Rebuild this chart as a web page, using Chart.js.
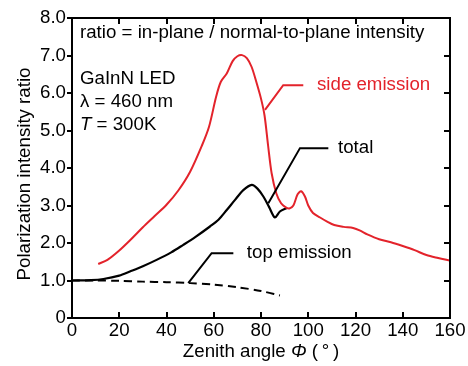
<!DOCTYPE html>
<html>
<head>
<meta charset="utf-8">
<script src="https://cdn.jsdelivr.net/npm/chart.js@4/dist/chart.umd.min.js"></script>
<style>
html,body{margin:0;padding:0;background:#fff;}
#wrap{width:468px;height:366px;position:relative;}
</style>
</head>
<body>
<div id="wrap"><canvas id="c" width="468" height="366"></canvas></div>
<script>
// ---- data ----
const xTicks = [0, 20, 40, 60, 80, 100, 120, 140, 160];
const yTicks = [0, 1, 2, 3, 4, 5, 6, 7, 8];

const sideAngle = [11.1, 15, 20, 25, 30, 35, 40, 45, 50, 55, 58, 61, 63, 65.5, 68, 70, 72, 74, 76, 78, 80, 81.5, 83, 84.5, 86.5, 88.5, 90.5, 92, 93.7, 95.5, 97, 98.6, 100, 102, 105, 108, 111, 115, 119, 122, 125, 130, 135, 140, 145, 150, 155, 160];
const sideRatio = [1.44, 1.55, 1.8, 2.1, 2.42, 2.72, 3.02, 3.4, 3.9, 4.6, 5.1, 5.9, 6.3, 6.52, 6.85, 6.98, 7.01, 6.93, 6.7, 6.3, 5.85, 5.4, 4.6, 3.86, 3.32, 3.06, 2.95, 2.92, 3.0, 3.3, 3.38, 3.24, 3.0, 2.8, 2.68, 2.57, 2.48, 2.43, 2.4, 2.33, 2.23, 2.1, 2.02, 1.92, 1.81, 1.68, 1.6, 1.53];

const totalAngle = [0, 8, 13.3, 20, 24.5, 30, 35.8, 42, 47.1, 52, 58.4, 62, 65.5, 69, 72.5, 76.1, 78.5, 81, 83.5, 85.9, 88, 90.9];
const totalRatio = [1.0, 1.01, 1.04, 1.13, 1.24, 1.38, 1.55, 1.75, 1.95, 2.15, 2.44, 2.62, 2.88, 3.15, 3.41, 3.55, 3.45, 3.24, 2.95, 2.68, 2.84, 2.93];

const topAngle = [0, 10, 20, 30, 40, 50, 60, 70, 80, 88];
const topRatio = [1.0, 1.0, 0.99, 0.97, 0.955, 0.93, 0.89, 0.82, 0.72, 0.6];

const seriesLabels = ['side emission', 'total', 'top emission'];
const headerText = 'ratio = in-plane / normal-to-plane intensity';
const infoLines = ['GaInN LED', 'λ = 460 nm'];
const xTitle = 'Zenith angle ';
const yTitle = 'Polarization intensity ratio';

// ---- layout / style ----
const RED = '#e3232b';
const FONT = '"Liberation Sans", Arial, sans-serif';
const FS = 18.7;
// leader lines in data units: [start, corner, end], and label anchor
const leaders = [
  {pts: [[81.7, 5.55], [89.4, 6.21], [97.9, 6.21]], text: [103.7, 6.21], color: RED, label: seriesLabels[0]},
  {pts: [[83.1, 3.06], [96.5, 4.53], [108.5, 4.53]], text: [112.6, 4.53], color: '#000', label: seriesLabels[1]},
  {pts: [[49.2, 0.93], [59.1, 1.73], [68.3, 1.73]], text: [74, 1.73], color: '#000', label: seriesLabels[2]}
];

function pts(xs, ys) { return xs.map((x, i) => ({x: x, y: ys[i]})); }

const decor = {
  id: 'decor',
  afterDraw(chart) {
    const ctx = chart.ctx, a = chart.chartArea;
    const xs = chart.scales.x, ys = chart.scales.y;
    ctx.save();
    // frame
    ctx.strokeStyle = '#000';
    ctx.lineWidth = 2;
    ctx.strokeRect(a.left, a.top, a.right - a.left, a.bottom - a.top);
    // ticks
    ctx.lineWidth = 2;
    ctx.beginPath();
    xTicks.forEach(v => {
      const px = Math.round(xs.getPixelForValue(v));
      ctx.moveTo(px, a.bottom); ctx.lineTo(px, a.bottom - 6);
      ctx.moveTo(px, a.top); ctx.lineTo(px, a.top + 6);
    });
    yTicks.forEach(v => {
      const py = Math.round(ys.getPixelForValue(v));
      ctx.moveTo(a.left, py); ctx.lineTo(a.left - 5, py);
      ctx.moveTo(a.right, py); ctx.lineTo(a.right - 6, py);
    });
    ctx.stroke();

    // leader lines & labels
    ctx.lineWidth = 2;
    ctx.textBaseline = 'middle';
    ctx.textAlign = 'left';
    ctx.font = FS + 'px ' + FONT;
    leaders.forEach(l => {
      ctx.strokeStyle = l.color;
      ctx.beginPath();
      l.pts.forEach((p, i) => {
        const X = xs.getPixelForValue(p[0]), Y = ys.getPixelForValue(p[1]);
        if (i === 0) ctx.moveTo(X, Y); else ctx.lineTo(X, Y);
      });
      ctx.stroke();
      ctx.fillStyle = l.color;
      ctx.fillText(l.label, xs.getPixelForValue(l.text[0]), ys.getPixelForValue(l.text[1]));
    });

    // header & info text
    ctx.fillStyle = '#000';
    const tx = a.left + 8;
    ctx.fillText(headerText, tx, a.top + 15);
    ctx.fillText(infoLines[0], tx, a.top + 61);
    ctx.fillText(infoLines[1], tx, a.top + 84);
    ctx.font = 'italic ' + FS + 'px ' + FONT;
    ctx.fillText('T', tx, a.top + 107);
    const wT = ctx.measureText('T').width;
    ctx.font = FS + 'px ' + FONT;
    ctx.fillText(' = 300K', tx + wT, a.top + 107);

    // x title with italic Φ
    const parts = [[xTitle, ''], ['Φ', 'italic '], [' (\u2009°\u2009)', '']];
    let total = 0;
    parts.forEach(p => { ctx.font = p[1] + FS + 'px ' + FONT; total += ctx.measureText(p[0]).width; });
    let cx = (a.left + a.right) / 2 - total / 2;
    const ty = 352;
    parts.forEach(p => {
      ctx.font = p[1] + FS + 'px ' + FONT;
      ctx.fillText(p[0], cx, ty);
      cx += ctx.measureText(p[0]).width;
    });

    // y title
    ctx.font = FS + 'px ' + FONT;
    ctx.translate(25, (a.top + a.bottom) / 2 + 6);
    ctx.rotate(-Math.PI / 2);
    ctx.textAlign = 'center';
    ctx.fillText(yTitle, 0, 0);
    ctx.restore();
  }
};

new Chart(document.getElementById('c'), {
  type: 'line',
  data: {
    datasets: [
      {label: seriesLabels[0], data: pts(sideAngle, sideRatio), borderColor: RED, borderWidth: 2, pointRadius: 0, tension: 0.3, fill: false},
      {label: seriesLabels[1], data: pts(totalAngle, totalRatio), borderColor: '#000', borderWidth: 2.2, pointRadius: 0, tension: 0.3, fill: false},
      {label: seriesLabels[2], data: pts(topAngle, topRatio), borderColor: '#000', borderWidth: 2, borderDash: [8, 5], pointRadius: 0, tension: 0.3, fill: false}
    ]
  },
  options: {
    responsive: false,
    animation: false,
    layout: {padding: {top: 18, right: 18, left: 0, bottom: 0}},
    plugins: {legend: {display: false}, tooltip: {enabled: false}},
    scales: {
      x: {
        type: 'linear', min: 0, max: 160,
        afterBuildTicks: s => { s.ticks = xTicks.map(v => ({value: v})); },
        afterFit: s => { s.height = 48; },
        grid: {display: false, drawTicks: false},
        border: {display: false},
        ticks: {color: '#000', font: {family: FONT, size: FS}, padding: 2, maxRotation: 0, autoSkip: false}
      },
      y: {
        type: 'linear', min: 0, max: 8,
        afterBuildTicks: s => { s.ticks = yTicks.map(v => ({value: v})); },
        afterFit: s => { s.width = 72; },
        grid: {display: false, drawTicks: false},
        border: {display: false},
        ticks: {color: '#000', font: {family: FONT, size: FS}, padding: 6,
          callback: v => v === 0 ? '0' : v.toFixed(1)}
      }
    }
  },
  plugins: [decor]
});
</script>
</body>
</html>
